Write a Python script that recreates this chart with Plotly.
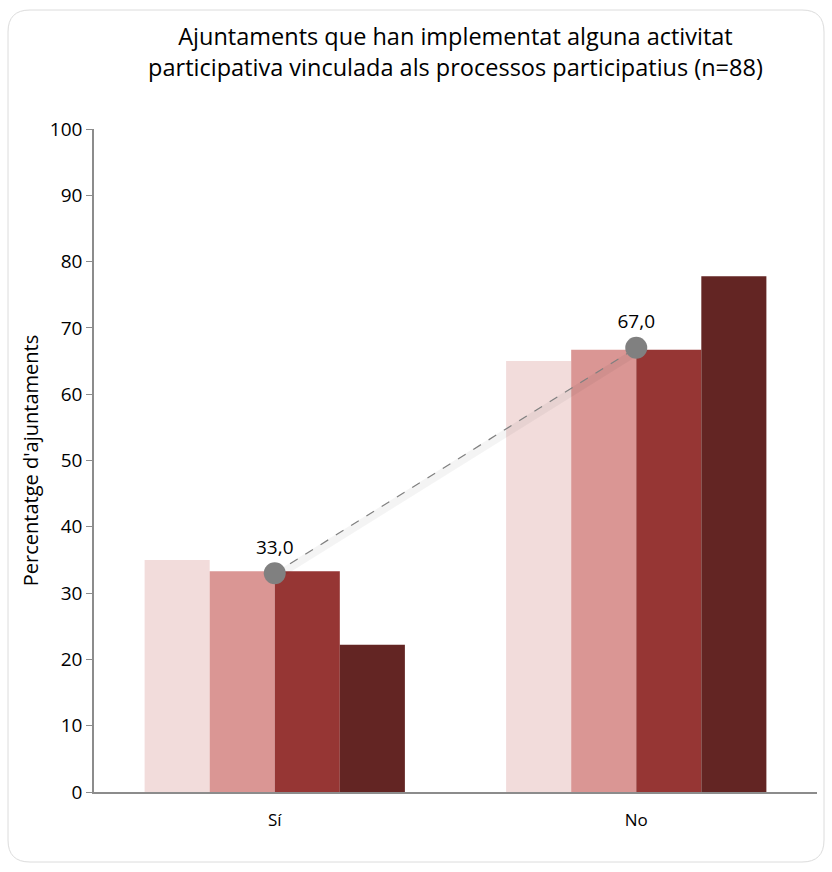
import plotly.graph_objects as go

categories = ["Sí", "No"]
series_names = ["Sèrie 1", "Sèrie 2", "Sèrie 3", "Sèrie 4"]
series_values = [
    [35.0, 65.0],
    [33.3, 66.7],
    [33.3, 66.7],
    [22.2, 77.8],
]
series_colors = ["#f2dcdb", "#da9694", "#963634", "#632523"]
total_values = [33.0, 67.0]
y_ticks = [0, 10, 20, 30, 40, 50, 60, 70, 80, 90, 100]

FONT = "Open Sans"

fig = go.Figure()
for name, vals, col in zip(series_names, series_values, series_colors):
    fig.add_trace(go.Bar(x=categories, y=vals, name=name,
                         marker=dict(color=col, line=dict(width=0))))

# soft shadow under the dashed line
fig.add_trace(go.Scatter(
    x=categories, y=[v - 0.6 for v in total_values], mode="lines",
    line=dict(color="rgba(0,0,0,0.045)", width=8),
    showlegend=False, hoverinfo="skip",
))
fig.add_trace(go.Scatter(
    x=categories, y=total_values, mode="lines+markers+text",
    line=dict(color="#808080", width=1.2, dash="dash"),
    marker=dict(color="#808080", size=22),
    text=[f"{v:.1f}".replace(".", ",") for v in total_values],
    textposition="top center",
    textfont=dict(size=19, color="#000000", family=FONT),
    showlegend=False, cliponaxis=False,
))

fig.update_layout(
    width=832, height=872,
    paper_bgcolor="white", plot_bgcolor="white",
    margin=dict(l=94, r=15, t=129, b=80),
    barmode="group", bargap=0.28, bargroupgap=0,
    showlegend=False,
    font=dict(family=FONT, size=17, color="#000000"),
    title=dict(
        text="Ajuntaments que han implementat alguna activitat<br>participativa vinculada als processos participatius (n=88)",
        x=0.5, xref="paper", xanchor="center",
        y=1 - 45 / 872, yanchor="middle",
        font=dict(size=23.5, family=FONT, color="#000000"),
        automargin=False,
    ),
    xaxis=dict(showline=True, linecolor="#8c8c8c", linewidth=1.5,
               ticks="", showgrid=False, tickfont=dict(size=17),
               ticklabelstandoff=12, automargin=False),
    yaxis=dict(range=[0, 100], tickvals=y_ticks, showline=True,
               linecolor="#8c8c8c", linewidth=1.5, ticks="outside",
               ticklen=6, tickcolor="#8c8c8c", showgrid=False,
               zeroline=False, tickfont=dict(size=19), automargin=False,
               title=dict(text="Percentatge d'ajuntaments", font=dict(size=20),
                          standoff=6)),
)

pw, ph = 832 - 94 - 15, 872 - 129 - 80
def px(x):
    return (x - 94) / pw
def py(y):
    return (872 - 80 - y) / ph
L, R, T, B, r = 8, 824, 10, 862, 22
path = (f"M {px(L + r)},{py(T)} L {px(R - r)},{py(T)} "
        f"Q {px(R)},{py(T)} {px(R)},{py(T + r)} "
        f"L {px(R)},{py(B - r)} Q {px(R)},{py(B)} {px(R - r)},{py(B)} "
        f"L {px(L + r)},{py(B)} Q {px(L)},{py(B)} {px(L)},{py(B - r)} "
        f"L {px(L)},{py(T + r)} Q {px(L)},{py(T)} {px(L + r)},{py(T)} Z")
fig.add_shape(type="path", path=path, xref="paper", yref="paper",
              line=dict(color="#dcdcdc", width=1), layer="below")

fig.write_html("out.html",
               config={"displayModeBar": False},
               post_script="document.body.style.margin='0';document.body.style.overflow='hidden';")
